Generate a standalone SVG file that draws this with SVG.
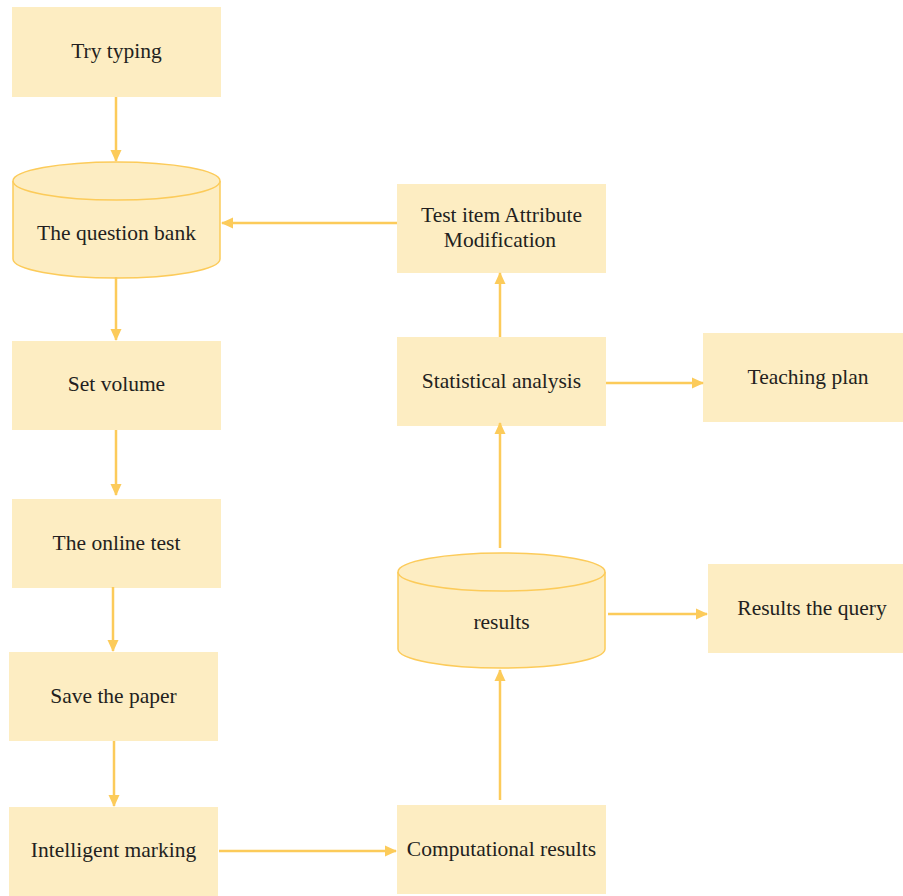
<svg xmlns="http://www.w3.org/2000/svg" width="903" height="896" viewBox="0 0 903 896">
  <defs>
    <marker id="arrow" viewBox="0 0 12 12" refX="11" refY="6" markerWidth="12" markerHeight="12" markerUnits="userSpaceOnUse" orient="auto">
      <path d="M0,0.5 L12,6 L0,11.5 Z" fill="#FCCB5A"/>
    </marker>
  </defs>
  <style>
    .box { fill: #FDEDC2; }
    .cyl { fill: #FDEDC2; stroke: #FCCB5A; stroke-width: 1.5; }
    .lbl { font-family: "Liberation Serif", "Times New Roman", serif; font-size: 21.5px; fill: #231F20; text-anchor: middle; dominant-baseline: central; }
    .edge { stroke: #FCCB5A; stroke-width: 2.5; fill: none; marker-end: url(#arrow); }
  </style>
  <rect width="903" height="896" fill="#FFFFFF"/>

  <g id="try-typing">
    <rect class="box" x="12" y="7" width="209" height="90"/>
    <text class="lbl" x="116.5" y="51">Try typing</text>
  </g>

  <g id="question-bank">
    <path class="cyl" d="M13,181 A103.5,19 0 0 1 220,181 L220,259 A103.5,19 0 0 1 13,259 Z"/>
    <path class="cyl" d="M13,181 A103.5,19 0 0 0 220,181" fill="none"/>
    <text class="lbl" x="116.5" y="233">The question bank</text>
  </g>

  <g id="set-volume">
    <rect class="box" x="12" y="341" width="209" height="89"/>
    <text class="lbl" x="116.5" y="384">Set volume</text>
  </g>

  <g id="online-test">
    <rect class="box" x="12" y="499" width="209" height="89"/>
    <text class="lbl" x="116.5" y="543">The online test</text>
  </g>

  <g id="save-paper">
    <rect class="box" x="9" y="652" width="209" height="89"/>
    <text class="lbl" x="113.5" y="696">Save the paper</text>
  </g>

  <g id="intelligent-marking">
    <rect class="box" x="9" y="807" width="209" height="89"/>
    <text class="lbl" x="113.5" y="850">Intelligent marking</text>
  </g>

  <g id="computational-results">
    <rect class="box" x="397" y="805" width="209" height="89"/>
    <text class="lbl" x="501.5" y="849">Computational results</text>
  </g>

  <g id="results">
    <path class="cyl" d="M398,572 A103.5,19 0 0 1 605,572 L605,649 A103.5,19 0 0 1 398,649 Z"/>
    <path class="cyl" d="M398,572 A103.5,19 0 0 0 605,572" fill="none"/>
    <text class="lbl" x="501.5" y="622">results</text>
  </g>

  <g id="results-query">
    <rect class="box" x="708" y="564" width="195" height="89"/>
    <text class="lbl" x="812" y="608">Results the query</text>
  </g>

  <g id="statistical-analysis">
    <rect class="box" x="397" y="337" width="209" height="89"/>
    <text class="lbl" x="501.5" y="381">Statistical analysis</text>
  </g>

  <g id="teaching-plan">
    <rect class="box" x="703" y="333" width="200" height="89"/>
    <text class="lbl" x="808" y="377">Teaching plan</text>
  </g>

  <g id="attribute-modification">
    <rect class="box" x="397" y="184" width="209" height="89"/>
    <text class="lbl" x="501.5" y="215">Test item Attribute</text>
    <text class="lbl" x="500" y="240">Modification</text>
  </g>

  <g id="connectors">
    <line class="edge" x1="116" y1="97" x2="116" y2="161"/>
    <line class="edge" x1="116" y1="277" x2="116" y2="340"/>
    <line class="edge" x1="116" y1="430" x2="116" y2="495"/>
    <line class="edge" x1="113" y1="587" x2="113" y2="651"/>
    <line class="edge" x1="114" y1="741" x2="114" y2="806"/>
    <line class="edge" x1="219" y1="851" x2="396" y2="851"/>
    <line class="edge" x1="500" y1="800" x2="500" y2="670"/>
    <line class="edge" x1="500" y1="548" x2="500" y2="423"/>
    <line class="edge" x1="608" y1="614" x2="707" y2="614"/>
    <line class="edge" x1="606" y1="383" x2="703" y2="383"/>
    <line class="edge" x1="500" y1="337" x2="500" y2="273"/>
    <line class="edge" x1="397" y1="223" x2="222" y2="223"/>
  </g>
</svg>
